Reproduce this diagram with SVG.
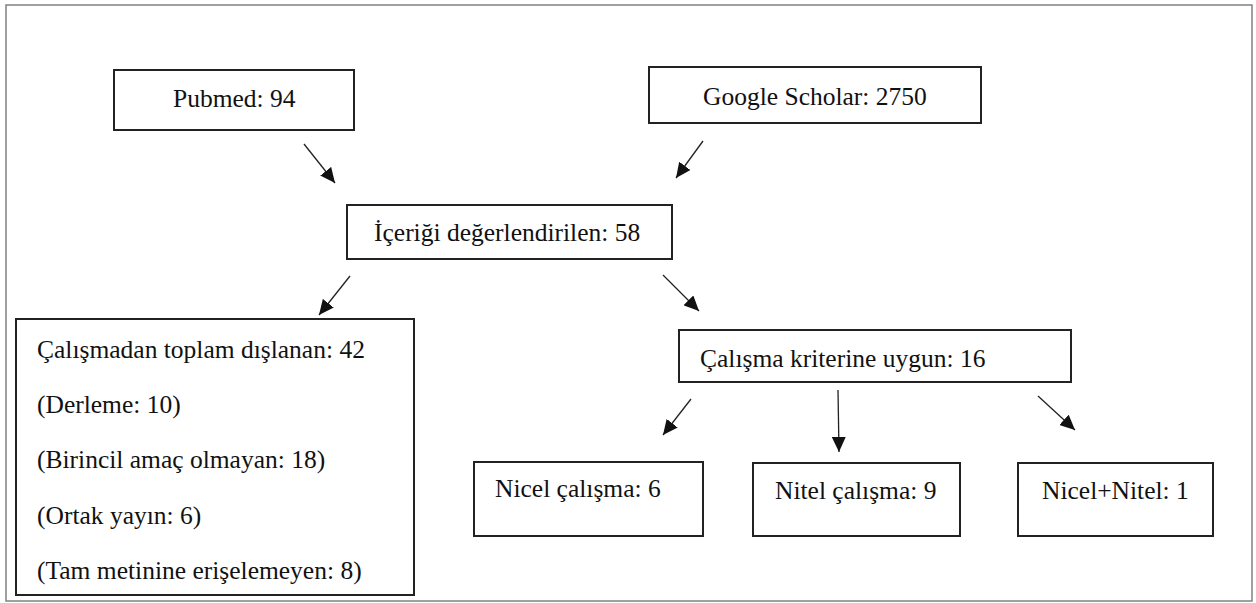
<svg xmlns="http://www.w3.org/2000/svg" width="1256" height="603" viewBox="0 0 1256 603">
<style>
.frame{fill:#fff;stroke:#808080;stroke-width:1.5}
.box{fill:#fff;stroke:#222;stroke-width:2}
.t{font-family:"Liberation Serif","Times New Roman",serif;font-size:25.5px;fill:#111}
.c{stroke:#222;stroke-width:1.3;fill:none;marker-end:url(#ah)}
</style>
<defs>
<marker id="ah" markerUnits="userSpaceOnUse" markerWidth="16" markerHeight="14" refX="15" refY="7" orient="auto">
<path d="M0,0 L15,7 L0,14 Z" fill="#111"/>
</marker>
</defs>
<rect class="frame" x="6" y="5" width="1246" height="596"/>
<g id="connectors">
<line class="c" x1="304" y1="144" x2="335" y2="183"/>
<line class="c" x1="703" y1="141" x2="676" y2="178"/>
<line class="c" x1="350" y1="276" x2="319" y2="315"/>
<line class="c" x1="663" y1="275" x2="699" y2="311"/>
<line class="c" x1="691" y1="399" x2="663" y2="435"/>
<line class="c" x1="838" y1="390" x2="839" y2="452"/>
<line class="c" x1="1038" y1="396" x2="1075" y2="430"/>
</g>
<g id="pubmed">
<rect class="box" x="114" y="70" width="240" height="60"/>
<text class="t" x="173" y="107">Pubmed: 94</text>
</g>
<g id="google">
<rect class="box" x="649" y="67" width="332" height="56"/>
<text class="t" x="703" y="105">Google Scholar: 2750</text>
</g>
<g id="icerigi">
<rect class="box" x="347" y="205" width="325" height="54"/>
<text class="t" x="374" y="241">İçeriği değerlendirilen: 58</text>
</g>
<g id="dislanan">
<rect class="box" x="16" y="319" width="398" height="276"/>
<text class="t" x="37" y="358">Çalışmadan toplam dışlanan: 42</text>
<text class="t" x="37" y="413">(Derleme: 10)</text>
<text class="t" x="37" y="468">(Birincil amaç olmayan: 18)</text>
<text class="t" x="37" y="524">(Ortak yayın: 6)</text>
<text class="t" x="37" y="579">(Tam metinine erişelemeyen: 8)</text>
</g>
<g id="uygun">
<rect class="box" x="679" y="330" width="392" height="52"/>
<text class="t" x="700" y="367">Çalışma kriterine uygun: 16</text>
</g>
<g id="nicel">
<rect class="box" x="474" y="462" width="229" height="74"/>
<text class="t" x="495" y="497">Nicel çalışma: 6</text>
</g>
<g id="nitel">
<rect class="box" x="753" y="463" width="207" height="73"/>
<text class="t" x="775" y="499">Nitel çalışma: 9</text>
</g>
<g id="nicelnitel">
<rect class="box" x="1018" y="463" width="195" height="73"/>
<text class="t" x="1042" y="499">Nicel+Nitel: 1</text>
</g>
</svg>
